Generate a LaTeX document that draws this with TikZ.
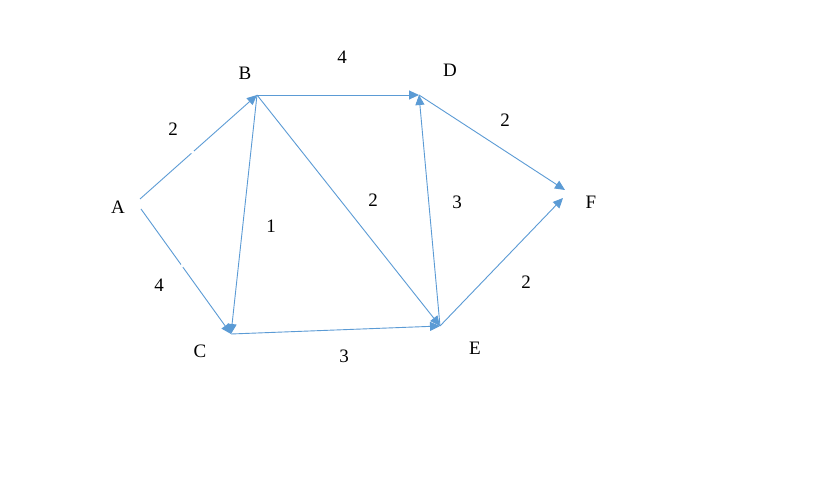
\documentclass[tikz,border=0pt]{standalone}
\usepackage{fontspec}
\setmainfont{Liberation Serif}
\usetikzlibrary{arrows.meta,calc}
\begin{document}
\begin{tikzpicture}[x=1pt,y=-1pt,
  edge/.style={draw=edgeblue,line width=0.9pt,-{Triangle[length=10pt,width=9pt]}},
  lbl/.style={font=\fontsize{19}{22}\selectfont,inner sep=0pt,anchor=center},
  wt/.style={font=\fontsize{19}{22}\selectfont,inner sep=0pt,anchor=center}]
\definecolor{edgeblue}{RGB}{91,155,213}
\useasboundingbox (0,0) rectangle (815,478);
\fill[white] (0,0) rectangle (815,478);
% points
\coordinate (pA1) at (140,199);
\coordinate (pA2) at (141,209);
\coordinate (pB) at (257,95);
\coordinate (pD) at (419,95);
\coordinate (pC) at (231,334);
\coordinate (pE) at (440,326);
\coordinate (pF1) at (565,190);
\coordinate (pF2) at (563,198);
% labels
\node[lbl] (A) at (118,207) {A};
\node[lbl] (B) at (245,73) {B};
\node[lbl] (D) at (450,70) {D};
\node[lbl] (C) at (200,351) {C};
\node[lbl] (E) at (475,348) {E};
\node[lbl] (F) at (591,202) {F};
% edges
\draw[edge] (pA1) -- (pB);
\draw[edge] (pA2) -- (pC);
\draw[edge] (pB) -- (pD);
\draw[edge] (pB) -- (pC);
\draw[edge] (pB) -- (pE);
\draw[edge] (pC) -- (pE);
\draw[edge] (pE) -- (pD);
\draw[edge] (pD) -- (pF1);
\draw[edge] (pE) -- (pF2);
% small gaps
\draw[white,line width=2pt] ($(pA1)!0.44!(pB)$) -- ($(pA1)!0.46!(pB)$);
\draw[white,line width=2pt] ($(pA2)!0.445!(pC)$) -- ($(pA2)!0.465!(pC)$);
% weights
\node[wt] (wAB) at (173,129) {2};
\node[wt] (wBD) at (342,57) {4};
\node[wt] (wDF) at (505,120) {2};
\node[wt] (wBC) at (271,226) {1};
\node[wt] (wBE) at (373,200) {2};
\node[wt] (wED) at (457,202) {3};
\node[wt] (wAC) at (159,285) {4};
\node[wt] (wCE) at (344,356) {3};
\node[wt] (wEF) at (526,282) {2};
\end{tikzpicture}
\end{document}
